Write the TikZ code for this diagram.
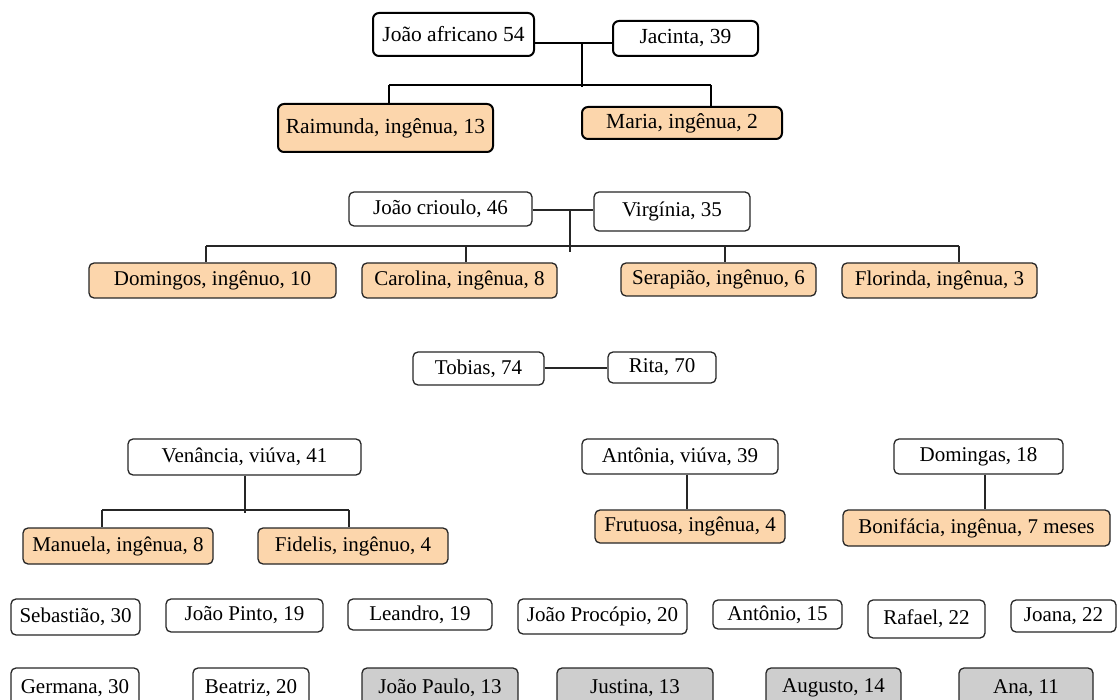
\documentclass[tikz,border=0pt]{standalone}
\usepackage{fontspec}
\setmainfont{Liberation Serif}
\definecolor{peach}{RGB}{252,214,172}
\definecolor{greybox}{RGB}{206,206,206}
\tikzset{
  base/.style={rounded corners=5pt, inner sep=0pt, align=center, font=\fontsize{21}{23}\selectfont, line width=1.3pt, draw=black!85},
  topbox/.style={base, line width=2pt, rounded corners=6pt, draw=black, font=\fontsize{21.5}{23}\selectfont},
  wbox/.style={base, fill=white},
  pbox/.style={base, fill=peach},
  ptop/.style={topbox, fill=peach},
  gbox/.style={base, fill=greybox},
  link/.style={line width=1.4pt, draw=black!85},
  linktop/.style={line width=2pt, draw=black},
}
\newcommand\bx[7]{\node[#6, minimum width={(#4-#2)*1pt}, minimum height={(#5-#3)*1pt}] (#1) at ({(#2+#4)/2},{(#3+#5)/2}) {#7};}
\begin{document}
\begin{tikzpicture}[x=1pt,y=-1pt]
\useasboundingbox (0,0) rectangle (1117,700);
% ---- family 1
\bx{ja}{373}{13}{534}{56}{topbox}{João africano 54}
\bx{jc}{613}{21}{758}{56}{topbox}{Jacinta, 39}
\bx{rai}{278}{104}{493}{152}{ptop}{Raimunda, ingênua, 13}
\bx{mar}{582}{107}{782}{139}{ptop}{Maria, ingênua, 2}
\coordinate (m1) at (582,43);
\coordinate (v1) at (582,87);
\coordinate (bl1) at (389,85);
\coordinate (br1) at (711,85);
\draw[linktop] (ja.east |- m1) -- (jc.west |- m1);
\draw[linktop] (m1) -- (v1);
\draw[linktop] (bl1) -- (br1);
\draw[linktop] (bl1) -- (bl1 |- rai.north);
\draw[linktop] (br1) -- (br1 |- mar.north);
% ---- family 2
\bx{jcr}{349}{192}{532}{226}{wbox}{João crioulo, 46}
\bx{vir}{594}{192}{750}{231}{wbox}{Virgínia, 35}
\bx{dom}{89}{263}{336}{298}{pbox}{Domingos, ingênuo, 10}
\bx{car}{362}{263}{557}{298}{pbox}{Carolina, ingênua, 8}
\bx{ser}{621}{263}{816}{296}{pbox}{Serapião, ingênuo, 6}
\bx{flo}{842}{263}{1037}{298}{pbox}{Florinda, ingênua, 3}
\coordinate (m2) at (570,210);
\coordinate (v2) at (570,252);
\coordinate (d1) at (206,246);
\coordinate (d2) at (466,246);
\coordinate (d3) at (725,246);
\coordinate (d4) at (959,246);
\draw[link] (jcr.east |- m2) -- (vir.west |- m2);
\draw[link] (m2) -- (v2);
\draw[link] (d1) -- (d4);
\draw[link] (d1) -- (d1 |- dom.north);
\draw[link] (d2) -- (d2 |- car.north);
\draw[link] (d3) -- (d3 |- ser.north);
\draw[link] (d4) -- (d4 |- flo.north);
% ---- Tobias & Rita
\bx{tob}{413}{352}{544}{385}{wbox}{Tobias, 74}
\bx{rit}{608}{352}{716}{383}{wbox}{Rita, 70}
\coordinate (m3) at (576,368);
\draw[link] (tob.east |- m3) -- (rit.west |- m3);
% ---- Venância
\bx{ven}{128}{439}{361}{475}{wbox}{Venância, viúva, 41}
\bx{man}{23}{528}{213}{564}{pbox}{Manuela, ingênua, 8}
\bx{fid}{258}{528}{448}{564}{pbox}{Fidelis, ingênuo, 4}
\coordinate (v4) at (245,513);
\coordinate (bl4) at (102,510);
\coordinate (br4) at (349,510);
\draw[link] (v4 |- ven.south) -- (v4);
\draw[link] (bl4) -- (br4);
\draw[link] (bl4) -- (bl4 |- man.north);
\draw[link] (br4) -- (br4 |- fid.north);
% ---- Antônia
\bx{ant}{582}{439}{778}{474}{wbox}{Antônia, viúva, 39}
\bx{fru}{595}{510}{785}{543}{pbox}{Frutuosa, ingênua, 4}
\coordinate (a5) at (687,490);
\draw[link] (a5 |- ant.south) -- (a5 |- fru.north);
% ---- Domingas
\bx{dgs}{894}{439}{1063}{474}{wbox}{Domingas, 18}
\bx{bon}{843}{510}{1110}{546}{pbox}{Bonifácia, ingênua, 7 meses}
\coordinate (a6) at (985,490);
\draw[link] (a6 |- dgs.south) -- (a6 |- bon.north);
% ---- row 5
\bx{seb}{11}{599}{140}{635}{wbox}{Sebastião, 30}
\bx{jpi}{166}{599}{323}{632}{wbox}{João Pinto, 19}
\bx{lea}{348}{599}{492}{630}{wbox}{Leandro, 19}
\bx{jpr}{518}{599}{687}{634}{wbox}{João Procópio, 20}
\bx{ato}{713}{600}{842}{629}{wbox}{Antônio, 15}
\bx{raf}{868}{600}{985}{638}{wbox}{Rafael, 22}
\bx{joa}{1011}{600}{1116}{632}{wbox}{Joana, 22}
% ---- row 6
\bx{ger}{11}{668}{139}{708}{wbox}{Germana, 30}
\bx{bea}{193}{668}{309}{708}{wbox}{Beatriz, 20}
\bx{jpa}{362}{668}{518}{708}{gbox}{João Paulo, 13}
\bx{jus}{557}{668}{713}{708}{gbox}{Justina, 13}
\bx{aug}{766}{668}{901}{708}{gbox}{Augusto, 14}
\bx{ana}{959}{668}{1093}{708}{gbox}{Ana, 11}
\end{tikzpicture}
\end{document}
